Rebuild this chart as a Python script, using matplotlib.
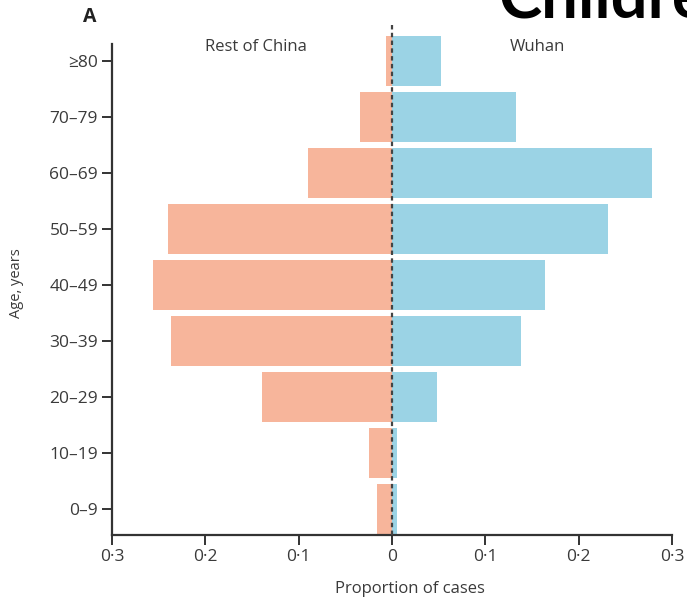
import numpy as np
import matplotlib
matplotlib.use("Agg")
import matplotlib.pyplot as plt

plt.rcParams['font.family'] = ['Open Sans', 'DejaVu Sans']

# age groups, bottom to top
age_groups = ['0–9', '10–19', '20–29', '30–39', '40–49', '50–59', '60–69', '70–79', '≥80']
# proportion of cases
rest_of_china = [0.016, 0.025, 0.139, 0.237, 0.256, 0.240, 0.090, 0.034, 0.006]
wuhan = [0.005, 0.005, 0.048, 0.138, 0.164, 0.231, 0.279, 0.133, 0.053]
xtick_values = [-0.3, -0.2, -0.1, 0, 0.1, 0.2, 0.3]
xtick_labels = ['0·3', '0·2', '0·1', '0', '0·1', '0·2', '0·3']

salmon = '#F7B59B'
blue = '#9BD3E5'
dark = '#333333'
text_grey = '#3a3a3a'

fig = plt.figure(figsize=(6.87, 6.02), dpi=100)
ax = fig.add_axes([112 / 687, 67 / 602, 560 / 687, 510 / 602])

y = np.arange(len(age_groups))
ax.barh(y, [-v for v in rest_of_china], height=0.89, color=salmon, linewidth=0)
ax.barh(y, wuhan, height=0.89, color=blue, linewidth=0)

# dashed centre line
ax.axvline(0, color='#444444', linestyle=(0, (2, 1.5)), linewidth=1.6, zorder=3)

ax.set_xlim(-0.3, 0.3)
ax.set_ylim(-0.46, 8.64)
ax.set_xticks(xtick_values)
ax.set_xticklabels(xtick_labels)
ax.set_yticks(y)
ax.set_yticklabels(age_groups)

for side in ['top', 'right']:
    ax.spines[side].set_visible(False)
for side in ['left', 'bottom']:
    ax.spines[side].set_color(dark)
    ax.spines[side].set_linewidth(1.6)
ax.spines['left'].set_bounds(-0.46, 8.3)
ax.tick_params(axis='both', colors=dark, labelcolor=text_grey, labelsize=12.5,
               length=7, width=1.4, pad=3)

ax.text(-0.146, 8.25, 'Rest of China', ha='center', va='center', fontsize=12, color=text_grey)
ax.text(0.156, 8.25, 'Wuhan', ha='center', va='center', fontsize=12, color=text_grey)

fig.text(17 / 687, 1 - 283 / 602, 'Age, years', rotation=90, ha='center', va='center',
         fontsize=10.5, color=text_grey)
fig.text(410 / 687, 1 - 589 / 602, 'Proportion of cases', ha='center', va='center',
         fontsize=12, color=text_grey)
fig.text(90 / 687, 1 - 17 / 602, 'A', ha='center', va='center', fontsize=14,
         fontweight='bold', color='#222222')
fig.text(499 / 687, 1 - 18 / 602, 'Children', ha='left', va='baseline', fontsize=47,
         fontweight='bold', family=['Lato', 'DejaVu Sans'], color='black')

fig.savefig('out.png', dpi=100)
